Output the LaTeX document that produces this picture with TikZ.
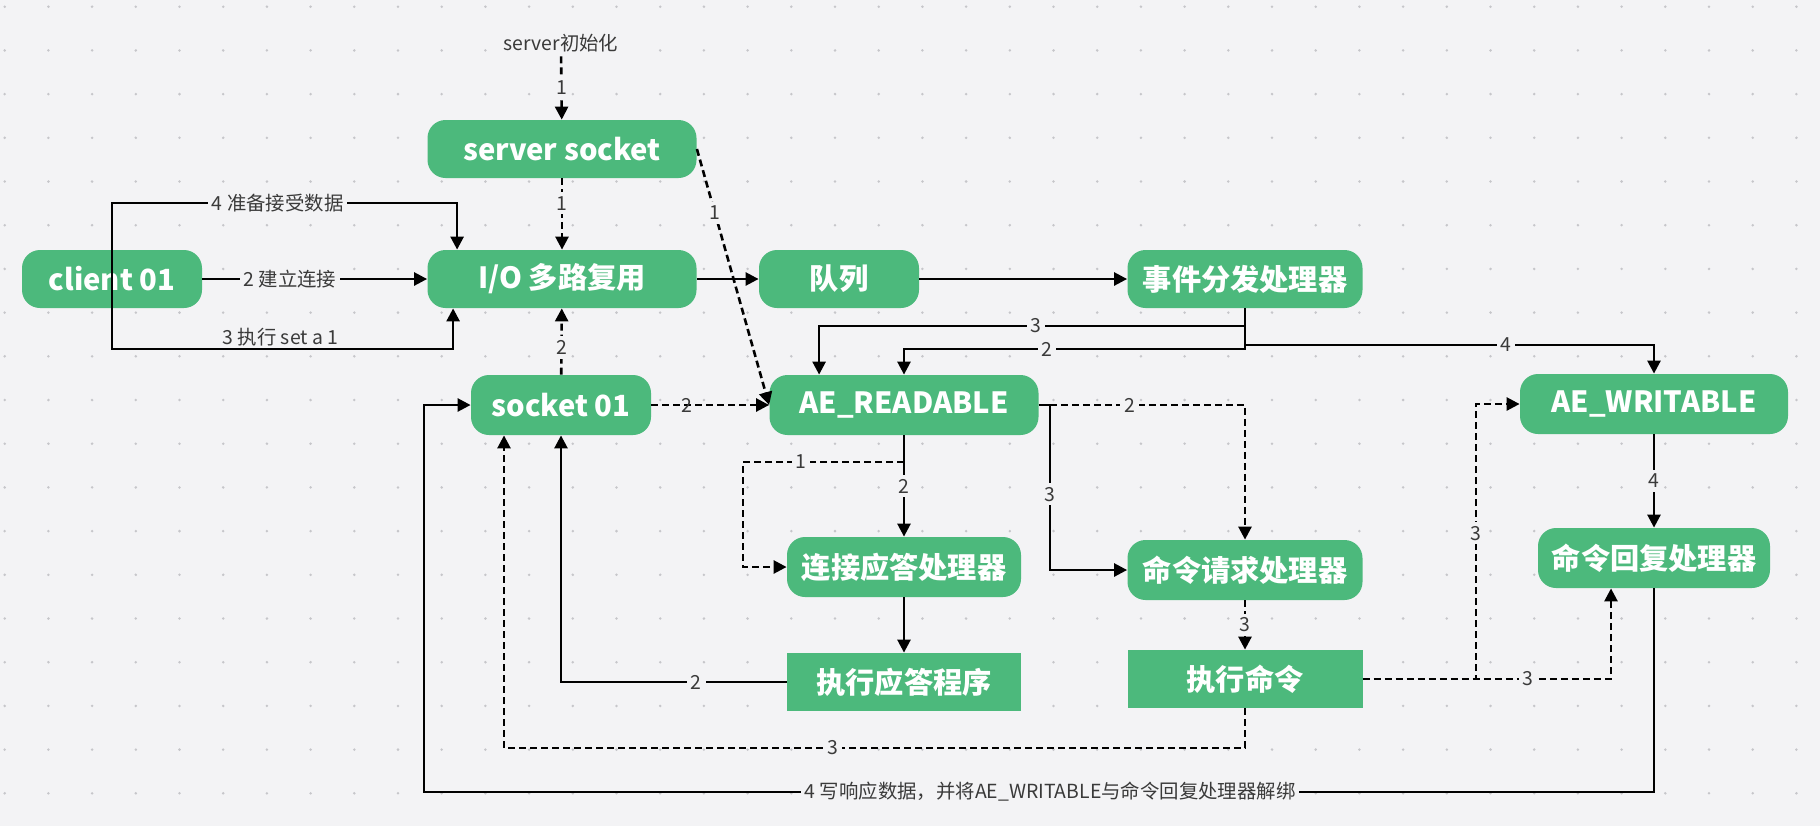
\documentclass[tikz,border=0pt]{standalone}
\usepackage{fontspec}
\setmainfont{Noto Sans CJK SC}
\usetikzlibrary{arrows.meta,calc}
\definecolor{nodegreen}{RGB}{76,185,124}
\definecolor{bg}{RGB}{243,243,245}
\definecolor{dotgray}{RGB}{198,198,202}
\definecolor{lblgray}{RGB}{58,58,58}

\begin{document}
\begin{tikzpicture}[x=0.5pt, y=-0.5pt]
	\tikzstyle{stage} = [rounded corners=9pt, fill=nodegreen, text=white, inner sep=0pt, minimum height=29pt, font=\bfseries\fontsize{14.6pt}{18pt}\selectfont]
	\tikzstyle{task} = [stage, sharp corners]
	\tikzstyle{lbl} = [fill=bg, text=lblgray, inner sep=2pt, font=\fontsize{9.7pt}{11pt}\selectfont]
	\tikzstyle{flow} = [-{Triangle[length=6.5pt, width=6.5pt]}, line width=1.3pt]
	\tikzstyle{dflow} = [flow, dash pattern=on 3.5pt off 2pt]
	% background with dot grid
	\useasboundingbox (0,0) rectangle (1820,826);
	\fill[bg] (0,0) rectangle (1820,826);
	\foreach \i in {0,...,41}
		\foreach \j in {0,...,18}
			\fill[dotgray] ({4.7+43.7*\i},{6.7+43.7*\j}) circle (0.7pt);
	% nodes
	\node[lbl](init) at (561,43) {server初始化};
	\node[stage, minimum width=134.5pt](ss) at (562,149) {server socket};
	\node[stage, minimum width=90pt](cli) at (112,279) {client 01};
	\node[stage, minimum width=134.5pt](io) at (562,279) {I/O 多路复用};
	\node[stage, minimum width=80pt](q) at (839,279) {队列};
	\node[stage, minimum width=117.5pt](disp) at (1245,279) {事件分发处理器};
	\node[stage, minimum width=90pt, minimum height=30pt](s01) at (561,405) {socket 01};
	\node[stage, minimum width=134.5pt, minimum height=30pt](aer) at (904,405) {AE\_READABLE};
	\node[stage, minimum width=134pt, minimum height=30pt](aew) at (1654,404) {AE\_WRITABLE};
	\node[stage, minimum width=117pt, minimum height=30pt](acc) at (904,567) {连接应答处理器};
	\node[stage, minimum width=117.5pt, minimum height=30pt](req) at (1245,570) {命令请求处理器};
	\node[stage, minimum width=116pt, minimum height=30pt](rep) at (1654,558) {命令回复处理器};
	\node[task, minimum width=117pt](accrun) at (904,682) {执行应答程序};
	\node[task, minimum width=117.5pt](reqrun) at (1245,679) {执行命令};
	% helper points
	\coordinate (looptop) at (112,203);
	\coordinate (loopbot) at (112,349);
	\coordinate (j3) at (1036,326);
	\coordinate (j2) at (1047,349);
	\coordinate (j4) at (1506,345);
	\coordinate (br1) at (904,462);
	\coordinate (c1) at (743,462);
	\coordinate (c3) at (504,748);
	\coordinate (c4) at (1476,404);
	\coordinate (c5) at (424,792);
	% connectors
	\path[dflow] (init) edge node[lbl] {1} (ss);
	\path[dflow] (ss) edge node[lbl, pos=0.35] {1} (io);
	\path[dflow] (ss.east) edge node[lbl, pos=0.25] {1} (aer.west);
	\path[flow] (cli) edge node[lbl, pos=0.39] {2 建立连接} (io);
	\path[flow] (io) edge (q);
	\path[flow] (q) edge (disp);
	\draw[flow] (cli.center) -- (looptop) -| node[lbl, pos=0.24] {4 准备接受数据} ($(io.north west)+(30,0)$);
	\draw[flow] (cli.center) -- (loopbot) -| node[lbl, fill=none, above, inner sep=1pt, pos=0.247] {3 执行 set a 1} ($(io.south west)+(26,0)$);
	\draw[flow] (disp.south) |- (j3) node[lbl] {3} -| ($(aer.north west)+(50,0)$);
	\draw[flow] (disp.south) |- (j2) node[lbl] {2} -| (aer.north);
	\draw[flow] (disp.south) |- (j4) node[lbl] {4} -| (aew.north);
	\path[dflow] (s01) edge node[lbl, fill=none, pos=0.3] {2} (aer);
	\path[dflow] (s01) edge node[lbl, pos=0.41] {2} (io);
	\draw[dflow] (aer.east) -| node[lbl, pos=0.22] {2} (req.north);
	\draw[flow] (aer.east) -- ++(11,0) |- node[lbl, pos=0.27] {3} (req.west);
	\path[flow] (aer) edge node[lbl] {2} (acc);
	\draw[dflow] (br1) -- node[lbl, pos=0.64] {1} (c1) |- (acc.west);
	\path[flow] (acc) edge (accrun);
	\draw[flow] (accrun.west) -| node[lbl, pos=0.2] {2} (s01.south);
	\path[dflow] (req) edge node[lbl] {3} (reqrun);
	\draw[dflow] (reqrun.south) |- node[lbl, pos=0.778] {3} (c3) -- (c3 |- s01.south);
	\draw[dflow] (reqrun.east) -| node[lbl, pos=0.765] {3} (c4) -- (aew.west);
	\draw[dflow] (reqrun.east) -| node[lbl, pos=0.333] {3} ($(rep.south)+(-43,0)$);
	\path[flow] (aew) edge node[lbl] {4} (rep);
	\draw[flow] (rep.south) |- node[lbl, pos=0.7455] {4 写响应数据，并将AE\_WRITABLE与命令回复处理器解绑} (c5) |- (s01.west);
\end{tikzpicture}
\end{document}
